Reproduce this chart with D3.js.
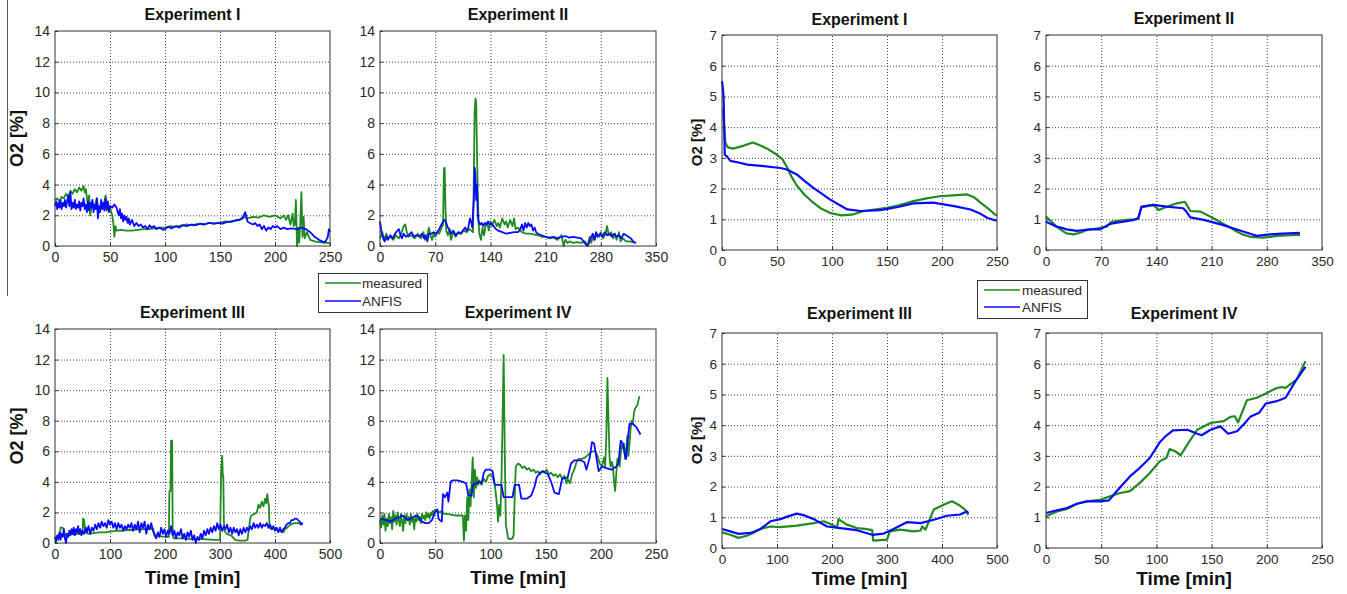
<!DOCTYPE html>
<html>
<head>
<meta charset="utf-8">
<script src="https://cdn.jsdelivr.net/npm/d3@7"></script>
<style>
  body { margin: 0; background: #fff; }
  svg { display: block; font-family: "Liberation Sans", Arial, sans-serif; }
</style>
</head>
<body>
<svg id="chart" width="1347" height="594"></svg>
<script>
// ---- data: [time (min), O2 (%)] ----
const titles = ["Experiment I", "Experiment II", "Experiment III", "Experiment IV"];
const xTicksI = [0, 50, 100, 150, 200, 250];
const xTicksII = [0, 70, 140, 210, 280, 350];
const xTicksIII = [0, 100, 200, 300, 400, 500];
const xTicksIV = [0, 50, 100, 150, 200, 250];
const yTicksLeft = [0, 2, 4, 6, 8, 10, 12, 14];
const yTicksRight = [0, 1, 2, 3, 4, 5, 6, 7];
const legendLabels = ["measured", "ANFIS"];

const leftMeasuredI = [[0,3.0],[2,3.1],[4,2.9],[6,3.2],[8,3.1],[10,3.4],[12,3.2],[14,3.6],[16,3.4],[18,3.7],[20,3.5],[22,3.8],[24,3.6],[26,3.9],[27,3.5],[28,3.7],[30,2.6],[31,3.3],[32,2.0],[34,2.9],[36,2.4],[38,3.1],[40,2.2],[42,2.8],[44,2.5],[46,3.3],[47,2.3],[48,2.7],[50,2.5],[52,2.0],[53,1.5],[54,0.6],[55,1.3],[56,1.0],[60,1.05],[65,1.0],[70,1.0],[75,1.05],[80,1.1],[85,1.1],[90,1.15],[95,1.2],[100,1.2],[105,1.3],[110,1.25],[115,1.35],[120,1.4],[125,1.35],[130,1.45],[135,1.4],[140,1.5],[145,1.45],[150,1.5],[155,1.6],[160,1.55],[165,1.7],[170,1.75],[172,1.9],[175,1.8],[180,1.9],[185,1.85],[190,2.0],[195,1.9],[200,2.0],[205,1.8],[208,2.0],[210,1.7],[212,2.0],[214,1.4],[216,2.1],[217,1.3],[218,1.4],[219,3.0],[220,0.0],[221,1.2],[222,0.2],[223,1.5],[224,3.5],[225,0.6],[226,1.9],[227,0.5],[229,0.9],[232,0.4],[236,0.3],[240,0.25],[245,0.2],[250,0.2]];
const leftAnfisI = [[0,2.6],[1,2.9],[2,2.4],[3,2.8],[4,2.5],[5,3.0],[6,2.4],[7,2.8],[8,2.6],[9,3.0],[10,2.5],[11,2.9],[12,3.3],[13,2.6],[14,3.5],[15,2.4],[16,2.8],[17,2.5],[18,3.0],[19,2.4],[20,2.7],[21,2.5],[22,2.9],[23,2.3],[24,2.8],[25,2.6],[26,3.1],[27,2.4],[28,2.7],[29,2.2],[30,2.9],[31,2.3],[32,2.8],[33,2.5],[34,3.0],[35,2.2],[36,2.7],[37,2.4],[38,3.1],[39,1.8],[40,2.6],[41,2.2],[42,3.0],[43,2.4],[44,2.8],[45,2.3],[46,3.1],[47,2.4],[48,2.9],[49,2.2],[50,2.6],[52,2.5],[54,2.7],[56,2.5],[57,2.2],[58,2.0],[59,2.4],[60,1.8],[61,2.1],[62,1.6],[63,2.0],[64,1.7],[65,1.9],[66,1.5],[67,1.8],[68,1.4],[70,1.7],[72,1.3],[74,1.5],[76,1.3],[78,1.4],[80,1.2],[82,1.3],[84,1.1],[86,1.35],[88,1.2],[90,1.3],[92,1.1],[95,1.2],[98,1.05],[100,1.1],[103,1.25],[106,1.15],[110,1.3],[113,1.2],[116,1.35],[120,1.3],[124,1.4],[128,1.35],[132,1.45],[136,1.4],[140,1.5],[144,1.45],[148,1.5],[152,1.45],[156,1.55],[160,1.6],[164,1.65],[168,1.7],[171,1.9],[173,2.2],[175,1.6],[177,1.5],[180,1.4],[182,1.5],[184,1.3],[186,1.4],[188,1.1],[190,1.3],[192,1.0],[194,1.2],[196,1.1],[198,1.3],[200,1.2],[202,1.3],[205,1.1],[208,1.2],[211,1.1],[215,1.15],[220,1.1],[224,1.2],[228,1.1],[232,0.9],[236,0.6],[240,0.4],[244,0.25],[246,0.3],[248,0.6],[249,1.1],[250,0.9]];

const leftMeasuredII = [[0,0.5],[3,0.9],[5,0.4],[8,0.8],[10,0.5],[13,0.6],[17,0.4],[20,0.7],[24,0.5],[27,0.8],[30,1.3],[32,1.4],[34,0.9],[36,0.6],[40,0.7],[44,0.5],[48,0.8],[52,0.5],[55,0.9],[57,0.4],[60,0.7],[62,1.2],[64,0.7],[66,0.4],[68,0.8],[70,0.6],[73,0.9],[75,0.8],[78,1.2],[80,1.4],[81,5.0],[82,5.1],[83,2.5],[84,1.0],[86,0.7],[88,1.1],[90,0.4],[93,0.9],[96,0.6],[100,0.9],[103,0.8],[106,1.0],[110,0.9],[113,1.1],[116,1.0],[118,0.9],[119,4.5],[120,8.7],[121,9.6],[122,9.4],[123,6.0],[124,3.5],[125,1.5],[126,0.8],[128,0.4],[130,1.2],[132,0.7],[134,1.4],[136,1.5],[138,1.0],[140,1.6],[142,1.3],[145,1.7],[148,1.3],[150,1.5],[152,1.2],[155,1.8],[158,1.4],[160,1.6],[162,1.2],[165,1.7],[168,1.3],[170,1.8],[172,1.1],[175,1.2],[178,1.0],[180,0.9],[185,0.8],[190,0.8],[195,0.75],[200,0.7],[205,0.6],[210,0.6],[215,0.5],[220,0.55],[225,0.4],[230,0.7],[233,0.0],[235,0.4],[238,0.2],[240,0.3],[245,0.2],[250,0.25],[255,0.2],[260,0.3],[263,0.0],[266,0.6],[268,0.2],[270,0.7],[272,0.4],[275,0.8],[278,0.6],[280,0.9],[283,0.5],[286,0.8],[288,1.3],[290,0.7],[293,0.9],[296,0.5],[298,0.8],[300,0.4],[303,0.9],[305,0.3],[308,0.5],[312,0.3],[316,0.3],[320,0.25],[325,0.2]];
const leftAnfisII = [[0,1.6],[2,0.9],[4,0.5],[6,0.3],[8,0.6],[10,0.4],[13,0.7],[16,0.5],[19,0.8],[22,1.0],[24,1.1],[26,0.7],[28,0.5],[30,0.8],[33,0.6],[36,0.7],[40,0.9],[43,0.6],[46,0.7],[50,0.6],[53,0.8],[56,0.5],[58,0.7],[60,0.3],[62,0.8],[65,0.8],[68,0.9],[71,0.8],[74,1.0],[76,1.2],[78,1.4],[80,1.6],[82,1.7],[84,1.5],[86,1.2],[88,1.1],[90,0.8],[93,1.0],[96,0.7],[99,0.9],[102,0.8],[105,1.0],[108,1.2],[110,1.0],[112,1.2],[114,1.8],[116,1.5],[117,1.2],[118,2.2],[119,3.0],[120,5.1],[121,4.6],[122,3.0],[123,4.0],[124,2.0],[125,1.6],[127,1.4],[129,1.5],[131,1.3],[133,1.5],[135,1.4],[137,1.6],[139,1.4],[141,1.5],[144,1.3],[147,1.1],[150,1.0],[155,0.9],[160,0.8],[165,0.85],[170,0.9],[175,0.9],[178,1.1],[180,1.4],[182,1.0],[184,1.5],[186,1.2],[188,1.5],[190,1.3],[192,1.4],[194,1.0],[196,1.2],[198,0.9],[200,0.8],[205,0.7],[210,0.6],[215,0.55],[220,0.6],[225,0.5],[230,0.6],[235,0.65],[240,0.55],[245,0.6],[250,0.55],[255,0.5],[258,0.3],[261,0.1],[263,0.0],[265,0.2],[267,0.5],[270,0.8],[272,0.4],[274,0.9],[276,0.6],[279,0.8],[282,0.6],[285,0.9],[288,0.7],[291,0.8],[294,0.6],[297,0.8],[300,0.6],[303,0.7],[306,0.5],[309,0.8],[312,0.7],[315,0.6],[318,0.5],[321,0.3],[324,0.2]];

const leftMeasuredIII = [[0,0.3],[3,0.4],[6,0.2],[9,0.4],[10,1.0],[14,1.0],[16,0.9],[18,0.5],[22,0.6],[26,0.5],[30,0.6],[35,0.55],[40,0.6],[45,0.6],[50,0.6],[51,1.6],[53,1.5],[55,0.7],[60,0.6],[70,0.65],[80,0.7],[90,0.7],[100,0.75],[110,0.8],[120,0.8],[130,0.85],[140,0.85],[150,0.9],[160,0.9],[170,0.9],[178,0.95],[182,0.5],[190,0.45],[200,0.4],[207,0.4],[208,3.4],[210,3.4],[211,6.7],[213,6.7],[214,0.5],[216,0.3],[230,0.3],[250,0.25],[270,0.25],[290,0.2],[300,0.2],[302,4.4],[304,5.7],[305,4.4],[306,4.4],[307,1.5],[308,0.8],[312,0.6],[320,0.5],[328,0.2],[335,0.15],[345,0.15],[350,0.2],[352,0.8],[355,1.6],[357,1.8],[362,1.9],[367,2.0],[370,2.5],[373,2.3],[376,2.7],[379,2.4],[382,2.9],[384,2.6],[386,3.2],[388,2.6],[389,2.4],[390,1.0],[395,0.9],[400,1.0],[405,0.8],[410,0.8],[415,0.7],[418,0.9],[422,1.0],[428,1.2],[435,1.3],[440,1.3],[445,1.3],[449,1.2]];
const leftAnfisIII = [[0,0.4],[2,0.1],[4,0.5],[6,0.3],[8,0.7],[10,0.2],[12,0.6],[14,0.4],[16,0.9],[18,0.3],[20,0.0],[22,0.6],[24,0.4],[26,0.8],[28,0.5],[30,0.9],[32,0.6],[34,1.0],[36,0.5],[38,0.9],[40,0.7],[42,1.1],[44,0.6],[46,0.9],[48,0.5],[50,0.8],[53,0.6],[56,1.0],[58,0.7],[61,1.1],[64,0.6],[67,1.0],[70,0.8],[73,1.2],[76,0.9],[79,1.3],[82,1.0],[85,1.4],[88,1.1],[91,1.3],[94,1.0],[97,1.5],[100,1.2],[103,1.4],[106,1.0],[109,1.3],[112,0.9],[115,1.3],[118,1.0],[121,1.2],[124,0.8],[127,1.1],[130,0.9],[133,1.2],[136,1.0],[139,1.3],[142,0.8],[145,1.2],[148,0.9],[151,1.4],[154,0.7],[157,1.3],[160,1.0],[163,1.4],[166,0.6],[169,1.2],[172,0.9],[175,1.3],[178,0.8],[181,0.5],[184,0.3],[187,0.7],[190,0.4],[193,1.0],[196,0.6],[199,0.9],[202,0.4],[205,0.8],[208,0.6],[211,1.1],[214,0.5],[217,0.8],[220,0.3],[223,0.7],[226,0.5],[229,0.9],[232,0.3],[235,0.6],[238,0.2],[241,0.7],[244,0.4],[247,0.8],[250,0.2],[253,0.5],[256,0.0],[259,0.4],[262,0.2],[265,0.6],[268,0.3],[271,0.8],[274,0.5],[277,0.9],[280,0.6],[283,1.0],[286,0.7],[289,1.1],[292,0.8],[295,1.3],[298,0.9],[301,1.2],[304,0.8],[307,1.1],[310,0.9],[313,1.2],[316,0.7],[319,1.0],[322,0.6],[325,1.0],[328,0.7],[331,0.9],[334,0.5],[337,0.9],[340,0.6],[343,1.0],[346,0.7],[349,1.0],[352,0.8],[355,1.1],[358,0.9],[361,1.3],[364,1.0],[367,1.2],[370,1.0],[373,1.3],[376,1.0],[379,1.2],[382,1.1],[385,1.3],[388,1.0],[391,1.2],[394,0.9],[397,1.1],[400,0.8],[403,1.0],[406,0.7],[409,1.0],[412,0.7],[415,0.9],[418,1.0],[421,1.2],[424,1.3],[427,1.3],[430,1.5],[433,1.5],[436,1.6],[439,1.6],[442,1.5],[445,1.4],[447,1.2],[449,1.3],[450,1.2]];

const leftMeasuredIV = [[0,1.5],[1,1.0],[2,1.8],[3,1.2],[4,1.9],[5,0.8],[6,1.6],[7,1.1],[8,1.9],[9,1.3],[10,1.7],[11,0.9],[12,2.1],[13,1.4],[14,1.8],[15,1.2],[16,2.0],[17,1.5],[18,1.1],[19,1.9],[20,1.4],[21,0.8],[22,1.8],[23,1.3],[24,1.9],[25,1.5],[26,1.7],[27,1.2],[28,1.9],[29,1.4],[30,1.6],[31,0.9],[32,1.8],[33,1.4],[34,1.9],[35,1.5],[36,1.7],[37,1.3],[38,1.9],[39,1.6],[40,1.8],[41,1.5],[42,2.0],[43,1.7],[44,1.9],[45,1.6],[46,2.0],[47,1.8],[48,2.1],[49,1.9],[50,2.2],[52,2.1],[54,2.0],[56,2.1],[58,1.9],[60,1.9],[64,1.85],[68,1.8],[72,1.8],[75,1.8],[76,0.15],[77,1.8],[78,0.8],[79,3.0],[80,1.5],[81,3.5],[82,2.4],[83,4.0],[84,5.6],[85,3.0],[86,4.8],[87,3.6],[88,4.3],[89,3.8],[90,4.1],[92,3.8],[94,4.2],[96,4.0],[98,4.4],[100,4.5],[102,4.3],[104,3.8],[106,2.5],[107,1.4],[108,2.5],[109,1.8],[110,4.0],[111,8.0],[112,12.3],[113,6.0],[114,1.2],[115,0.8],[116,0.3],[118,0.25],[120,0.3],[121,0.5],[122,3.0],[123,5.0],[125,5.2],[127,5.1],[129,4.9],[131,5.0],[133,4.8],[135,4.9],[137,4.7],[139,4.8],[141,4.6],[143,4.7],[145,4.5],[147,4.7],[149,4.6],[151,4.8],[153,4.5],[155,4.6],[157,4.4],[159,4.5],[161,4.3],[163,4.5],[165,4.2],[167,4.4],[169,3.9],[170,4.2],[172,3.9],[174,4.5],[176,4.8],[178,5.3],[180,5.5],[183,5.5],[186,5.6],[189,5.8],[192,6.0],[195,6.0],[197,5.7],[199,5.2],[201,5.0],[203,5.6],[204,5.0],[205,7.0],[206,10.8],[207,8.0],[208,5.5],[209,5.0],[210,5.3],[211,5.0],[212,4.0],[213,3.4],[214,4.5],[215,5.5],[216,5.3],[217,5.0],[218,5.8],[219,6.4],[220,6.2],[221,6.5],[222,5.5],[223,6.0],[224,7.0],[225,5.7],[226,6.5],[227,7.5],[228,8.0],[229,7.8],[230,8.5],[231,8.8],[232,8.9],[233,9.0],[234,9.3],[235,9.6]];
const leftAnfisIV = [[0,1.6],[6,1.5],[10,1.4],[12,1.5],[14,1.6],[18,1.7],[20,1.8],[22,1.7],[25,1.5],[28,1.6],[30,1.7],[33,1.8],[35,1.7],[38,1.4],[41,1.3],[44,1.3],[47,1.5],[50,2.0],[52,2.2],[53,1.6],[54,1.5],[56,1.4],[57,3.2],[59,3.0],[61,3.3],[62,2.7],[64,4.0],[66,4.1],[70,4.1],[75,4.0],[78,3.9],[80,3.1],[83,3.1],[84,3.8],[87,3.9],[90,4.0],[92,3.9],[94,4.6],[96,4.8],[100,4.8],[102,4.7],[104,3.8],[110,3.8],[112,3.0],[120,3.0],[122,3.8],[126,3.8],[128,2.9],[133,2.9],[137,3.1],[140,3.7],[142,4.3],[145,4.6],[148,4.7],[152,4.5],[155,4.0],[158,3.3],[162,3.2],[165,4.2],[170,4.3],[173,5.2],[176,5.4],[182,5.4],[185,5.3],[187,4.8],[190,5.6],[192,6.6],[194,6.5],[196,5.6],[198,4.7],[201,5.0],[205,4.9],[210,4.8],[214,5.0],[216,5.2],[218,6.7],[220,6.5],[222,5.7],[223,5.5],[224,6.5],[226,7.8],[229,7.8],[232,7.6],[236,7.1]];

const rightMeasuredI = [[1,4.6],[2,4.0],[3,3.5],[5,3.35],[10,3.3],[15,3.35],[20,3.4],[28,3.5],[35,3.4],[41,3.3],[50,3.1],[55,2.95],[59,2.7],[63,2.4],[68,2.1],[75,1.8],[83,1.54],[90,1.35],[98,1.21],[108,1.13],[118,1.15],[129,1.27],[140,1.32],[150,1.37],[160,1.45],[174,1.59],[186,1.68],[198,1.75],[210,1.78],[223,1.81],[229,1.72],[235,1.54],[242,1.35],[248,1.16],[250,1.12]];
const rightAnfisI = [[0,5.5],[1,5.2],[1.5,4.9],[2.5,3.1],[4.5,3.05],[7.6,2.9],[15,2.85],[23,2.78],[38,2.73],[53,2.67],[59,2.62],[68,2.46],[75,2.25],[83,2.02],[90,1.85],[98,1.65],[106,1.48],[114,1.32],[126,1.27],[144,1.30],[160,1.4],[174,1.52],[192,1.54],[211,1.43],[226,1.32],[234,1.2],[241,1.05],[248,0.97],[250,0.96]];

const rightMeasuredII = [[0,1.09],[7,0.92],[13.5,0.76],[20,0.64],[26,0.54],[35,0.51],[44,0.57],[52,0.65],[64,0.7],[77,0.76],[83,0.92],[92,0.95],[102,0.98],[112,1.0],[117,1.03],[121,1.39],[136,1.47],[143,1.3],[153,1.41],[166,1.52],[176,1.57],[179,1.45],[183,1.27],[196,1.25],[208,1.09],[217,0.97],[225,0.85],[234,0.72],[242,0.6],[250,0.5],[259,0.43],[276,0.4],[293,0.46],[310,0.48],[322,0.49]];
const rightAnfisII = [[0,0.92],[7,0.84],[13.5,0.76],[20,0.72],[26,0.67],[39,0.62],[56,0.67],[69,0.67],[81,0.85],[90,0.89],[98,0.92],[110,0.97],[117,1.03],[121,1.41],[136,1.47],[153,1.41],[174,1.36],[178,1.25],[183,1.06],[200,0.98],[212,0.9],[225,0.81],[238,0.7],[250,0.6],[260,0.52],[267,0.46],[284,0.51],[300,0.53],[322,0.56]];

const rightMeasuredIII = [[0,0.51],[15,0.43],[30,0.33],[45,0.4],[58,0.5],[70,0.62],[88,0.7],[106,0.68],[136,0.73],[167,0.81],[185,0.87],[200,0.76],[209,0.67],[212,0.94],[227,0.76],[245,0.65],[260,0.62],[273,0.58],[275,0.24],[300,0.27],[305,0.54],[324,0.6],[348,0.54],[361,0.57],[364,0.7],[370,0.6],[378,0.95],[385,1.25],[403,1.41],[418,1.52],[430,1.41],[442,1.25],[448,1.08]];
const rightAnfisIII = [[0,0.62],[15,0.54],[30,0.46],[52,0.49],[70,0.62],[88,0.87],[106,0.94],[120,1.03],[136,1.12],[150,1.06],[167,0.94],[191,0.7],[215,0.65],[245,0.58],[273,0.43],[294,0.47],[312,0.62],[336,0.84],[361,0.81],[385,0.92],[409,1.05],[433,1.09],[445,1.19],[448,1.14]];

const rightMeasuredIV = [[0,1.03],[10,1.19],[19,1.27],[28,1.44],[37,1.52],[49,1.57],[58,1.68],[67,1.79],[76,1.85],[85,2.12],[94,2.44],[103,2.82],[109,2.93],[112,3.22],[117,3.15],[122,3.02],[129,3.42],[137,3.85],[149,4.07],[161,4.13],[167,4.27],[171,4.29],[174,4.09],[182,4.81],[191,4.89],[200,5.05],[209,5.21],[214,5.24],[217,5.21],[227,5.48],[235,6.08]];
const rightAnfisIV = [[0,1.14],[10,1.23],[19,1.3],[28,1.44],[37,1.52],[49,1.52],[57,1.55],[64,1.85],[76,2.33],[85,2.61],[94,2.93],[103,3.44],[109,3.66],[115,3.83],[128,3.85],[137,3.72],[141,3.67],[149,3.85],[158,3.96],[165,3.72],[173,3.8],[179,4.02],[185,4.27],[193,4.4],[199,4.7],[209,4.78],[217,4.89],[226,5.43],[235,5.9]];

// ---- layout ----
const green = "#1f8a1f", blue = "#0a0aff";
const panels = [
  { title: titles[0], box: [55, 330, 31, 246], xt: xTicksI, yt: yTicksLeft, m: leftMeasuredI, a: leftAnfisI, ylab: 17, tx: 14, lw: 1.8, fs: 14, yfs: 18 },
  { title: titles[1], box: [380, 656, 31, 246], xt: xTicksII, yt: yTicksLeft, m: leftMeasuredII, a: leftAnfisII, tx: 14, lw: 1.8, fs: 14 },
  { title: titles[2], box: [55, 330, 329, 543], xt: xTicksIII, yt: yTicksLeft, m: leftMeasuredIII, a: leftAnfisIII, ylab: 17, tx: 312, time: 577, lw: 1.8, fs: 14, yfs: 18 },
  { title: titles[3], box: [380, 656, 329, 543], xt: xTicksIV, yt: yTicksLeft, m: leftMeasuredIV, a: leftAnfisIV, tx: 312, time: 577, lw: 1.8, fs: 14 },
  { title: titles[0], box: [722, 997, 35, 250], xt: xTicksI, yt: yTicksRight, m: rightMeasuredI, a: rightAnfisI, ylab: 697, tx: 19, lw: 2.2, fs: 13.5, yfs: 15 },
  { title: titles[1], box: [1046, 1322, 35, 250], xt: xTicksII, yt: yTicksRight, m: rightMeasuredII, a: rightAnfisII, tx: 18, lw: 2.2, fs: 13.5 },
  { title: titles[2], box: [722, 997, 333, 548], xt: xTicksIII, yt: yTicksRight, m: rightMeasuredIII, a: rightAnfisIII, ylab: 697, tx: 313, time: 578, lw: 2.2, fs: 13.5, yfs: 15 },
  { title: titles[3], box: [1046, 1322, 333, 548], xt: xTicksIV, yt: yTicksRight, m: rightMeasuredIV, a: rightAnfisIV, tx: 313, time: 578, lw: 2.2, fs: 13.5 }
];

const svg = d3.select("#chart");

// stray vertical rule at the far left of the figure
svg.append("line").attr("x1", 7.5).attr("x2", 7.5).attr("y1", 0).attr("y2", 296)
  .attr("stroke", "#555").attr("stroke-width", 1);

panels.forEach(p => {
  const [x0, x1, y0, y1] = p.box;
  const x = d3.scaleLinear().domain([p.xt[0], p.xt[p.xt.length - 1]]).range([x0, x1]);
  const y = d3.scaleLinear().domain([p.yt[0], p.yt[p.yt.length - 1]]).range([y1, y0]);
  const g = svg.append("g");

  // grid
  g.append("g").attr("transform", `translate(0,${y1})`)
    .call(d3.axisBottom(x).tickValues(p.xt.slice(1, -1)).tickSize(-(y1 - y0)).tickFormat(""))
    .call(a => a.select(".domain").remove())
    .selectAll("line").attr("stroke", "#444").attr("stroke-dasharray", "1,2");
  g.append("g").attr("transform", `translate(${x0},0)`)
    .call(d3.axisLeft(y).tickValues(p.yt.slice(1, -1)).tickSize(-(x1 - x0)).tickFormat(""))
    .call(a => a.select(".domain").remove())
    .selectAll("line").attr("stroke", "#444").attr("stroke-dasharray", "1,2");

  // data lines
  const line = d3.line().x(d => x(d[0])).y(d => y(d[1]));
  g.append("path").datum(p.m).attr("d", line).attr("fill", "none")
    .attr("stroke", green).attr("stroke-width", p.lw).attr("stroke-linejoin", "round");
  g.append("path").datum(p.a).attr("d", line).attr("fill", "none")
    .attr("stroke", blue).attr("stroke-width", p.lw).attr("stroke-linejoin", "round");

  // frame
  g.append("rect").attr("x", x0).attr("y", y0).attr("width", x1 - x0).attr("height", y1 - y0)
    .attr("fill", "none").attr("stroke", "#333").attr("stroke-width", 1);

  // axes with inward ticks
  const fmt = d3.format("d");
  const ax = g.append("g").attr("transform", `translate(0,${y1})`)
    .call(d3.axisBottom(x).tickValues(p.xt).tickFormat(fmt).tickSize(-3).tickPadding(6));
  const ay = g.append("g").attr("transform", `translate(${x0},0)`)
    .call(d3.axisLeft(y).tickValues(p.yt).tickFormat(fmt).tickSize(-3).tickPadding(5));
  [ax, ay].forEach(a => {
    a.select(".domain").remove();
    a.selectAll("line").attr("stroke", "#333");
    a.selectAll("text").attr("fill", "#2a2a2a").style("font-size", p.fs + "px")
      .style("font-family", '"Liberation Sans", Arial, sans-serif');
  });

  // title
  g.append("text").attr("x", (x0 + x1) / 2).attr("y", p.tx).attr("dy", "0.35em")
    .attr("text-anchor", "middle").attr("font-weight", "bold").attr("font-size", 16)
    .attr("fill", "#111").text(p.title);

  if (p.ylab) {
    g.append("text").attr("transform", `translate(${p.ylab},${(y0 + y1) / 2}) rotate(-90)`)
      .attr("dy", "0.35em").attr("text-anchor", "middle").attr("font-weight", "bold")
      .attr("font-size", p.yfs).attr("fill", "#111").text("O2 [%]");
  }
  if (p.time) {
    g.append("text").attr("x", (x0 + x1) / 2).attr("y", p.time).attr("dy", "0.35em")
      .attr("text-anchor", "middle").attr("font-weight", "bold").attr("font-size", 19)
      .attr("fill", "#111").text("Time [min]");
  }
});

// legends
function legend(bx, by, bw, bh, lx0, lx1, ly, tx) {
  const lg = svg.append("g");
  lg.append("rect").attr("x", bx).attr("y", by).attr("width", bw).attr("height", bh)
    .attr("fill", "#fff").attr("stroke", "#333").attr("stroke-width", 1);
  [green, blue].forEach((c, i) => {
    lg.append("line").attr("x1", lx0).attr("x2", lx1).attr("y1", ly[i]).attr("y2", ly[i])
      .attr("stroke", c).attr("stroke-width", 1.6);
    lg.append("text").attr("x", tx).attr("y", ly[i]).attr("dy", "0.35em")
      .attr("font-size", 13.5).attr("fill", "#2a2a2a").text(legendLabels[i]);
  });
}
legend(318.5, 273.5, 109, 39, 325, 361, [283, 301], 362);
legend(977.5, 280.5, 110, 38, 984, 1020, [290, 307], 1022);
</script>
</body>
</html>
